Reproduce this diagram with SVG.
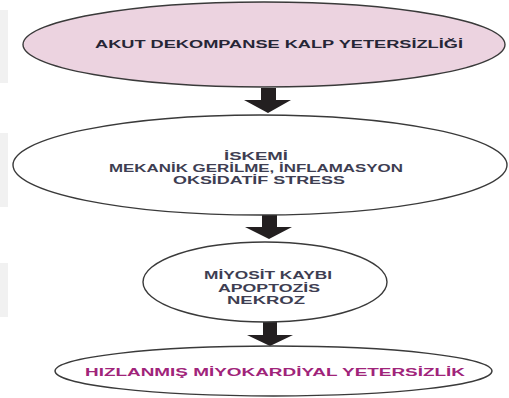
<svg xmlns="http://www.w3.org/2000/svg" width="509" height="398" viewBox="0 0 509 398">
<style>
.node ellipse{stroke:#3a3a3a;stroke-width:1.4}
.t{font-family:"Liberation Sans",Arial,sans-serif;font-weight:bold;font-size:11.5px;text-anchor:middle}
.arrow{fill:#231f20}
.bg{fill:#f1f1f1}
</style>
<rect width="509" height="398" fill="#ffffff"/>
<rect class="bg" x="0" y="10" width="8" height="73"/>
<rect class="bg" x="0" y="133" width="8" height="74"/>
<rect class="bg" x="0" y="263" width="8" height="54"/>
<g id="connectors">
<polygon class="arrow" points="261,88 276,88 276,100 291,100 268,113 244,100 261,100"/>
<polygon class="arrow" points="262,215 277,215 277,227 292,227 269,239 245,227 262,227"/>
<polygon class="arrow" points="263,322 277,322 277,335 293,335 270,346 247,335 263,335"/>
</g>
<g id="node1" class="node">
<ellipse cx="264" cy="44.5" rx="241" ry="42.5" fill="#ecd3e0"/>
<text class="t" x="279" y="47.5" fill="#262636" textLength="368" lengthAdjust="spacingAndGlyphs">AKUT DEKOMPANSE KALP YETERSİZLİĞİ</text>
</g>
<g id="node2" class="node">
<ellipse cx="260" cy="165" rx="247" ry="50" fill="#ffffff"/>
<text class="t" x="256" y="159.5" fill="#3e3e52" textLength="64" lengthAdjust="spacingAndGlyphs">İSKEMİ</text>
<text class="t" x="256" y="171.5" fill="#3e3e52" textLength="294" lengthAdjust="spacingAndGlyphs">MEKANİK GERİLME, İNFLAMASYON</text>
<text class="t" x="259" y="183.5" fill="#3e3e52" textLength="172" lengthAdjust="spacingAndGlyphs">OKSİDATİF STRESS</text>
</g>
<g id="node3" class="node">
<ellipse cx="265" cy="282" rx="122" ry="40" fill="#ffffff"/>
<text class="t" x="268" y="279" fill="#3e3e52" textLength="128" lengthAdjust="spacingAndGlyphs">MİYOSİT KAYBI</text>
<text class="t" x="269" y="291.5" fill="#3e3e52" textLength="102" lengthAdjust="spacingAndGlyphs">APOPTOZİS</text>
<text class="t" x="266" y="304" fill="#3e3e52" textLength="78" lengthAdjust="spacingAndGlyphs">NEKROZ</text>
</g>
<g id="node4" class="node">
<ellipse cx="273.5" cy="371" rx="218.5" ry="25" fill="#ffffff"/>
<text class="t" x="275" y="376" fill="#a0247a" textLength="380" lengthAdjust="spacingAndGlyphs">HIZLANMIŞ MİYOKARDİYAL YETERSİZLİK</text>
</g>
</svg>
